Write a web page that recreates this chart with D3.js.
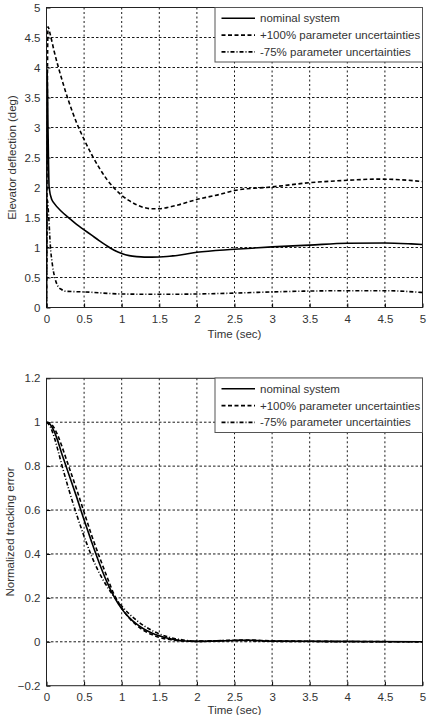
<!DOCTYPE html>
<html>
<head>
<meta charset="utf-8">
<script src="https://cdn.jsdelivr.net/npm/d3@7"></script>
<style>
  body { margin: 0; background: #fff; }
  svg { display: block; font-family: Arial, "Liberation Sans", sans-serif; }
</style>
</head>
<body>
<svg id="chart" width="427" height="715"></svg>
<script>
// series names (legend)
const seriesNames = ["nominal system", "+100% parameter uncertainties", "-75% parameter uncertainties"];

// top plot: elevator deflection (deg)
const defNominalT = [0, 0.01, 0.02, 0.035, 0.07, 0.1, 0.2, 0.3, 0.4, 0.5, 0.6, 0.7, 0.8, 0.9, 1.0, 1.1, 1.2, 1.3, 1.4, 1.6, 1.8, 2.0, 2.5, 3.0, 3.5, 4.0, 4.5, 4.85, 5.0];
const defNominalV = [0, 3.93, 3.0, 2.0, 1.8, 1.74, 1.6, 1.49, 1.385, 1.295, 1.205, 1.115, 1.03, 0.955, 0.9, 0.865, 0.848, 0.84, 0.84, 0.85, 0.88, 0.92, 0.97, 1.01, 1.04, 1.07, 1.075, 1.06, 1.05];

const defPlusT = [0, 0.02, 0.05, 0.1, 0.2, 0.3, 0.4, 0.5, 0.6, 0.7, 0.8, 0.9, 1.0, 1.1, 1.2, 1.3, 1.4, 1.5, 1.6, 1.75, 2.0, 2.32, 2.5, 3.0, 3.5, 4.0, 4.4, 4.7, 5.0];
const defPlusV = [0, 4.68, 4.55, 4.28, 3.82, 3.42, 3.08, 2.8, 2.55, 2.33, 2.14, 1.99, 1.87, 1.78, 1.71, 1.665, 1.645, 1.645, 1.665, 1.71, 1.8, 1.89, 1.95, 2.01, 2.08, 2.12, 2.14, 2.13, 2.1];

const defMinusT = [0, 0.01, 0.03, 0.05, 0.08, 0.11, 0.15, 0.2, 0.26, 0.5, 1.0, 1.5, 2.0, 2.5, 3.0, 4.0, 4.5, 5.0];
const defMinusV = [0, 1.8, 1.5, 1.05, 0.7, 0.5, 0.36, 0.3, 0.27, 0.26, 0.225, 0.22, 0.225, 0.24, 0.26, 0.28, 0.28, 0.25];

// bottom plot: normalized tracking error
const errNominalT = [0, 0.05, 0.1, 0.15, 0.2, 0.25, 0.3, 0.4, 0.5, 0.6, 0.7, 0.8, 0.9, 1.0, 1.1, 1.2, 1.3, 1.4, 1.5, 1.6, 1.7, 1.8, 2.0, 2.5, 2.7, 3.0, 5.0];
const errNominalV = [1, 0.99, 0.96, 0.915, 0.86, 0.81, 0.76, 0.66, 0.555, 0.455, 0.36, 0.275, 0.205, 0.15, 0.11, 0.08, 0.057, 0.04, 0.027, 0.017, 0.01, 0.005, 0.002, 0.006, 0.007, 0.003, 0];

const errPlusT = [0, 0.05, 0.1, 0.15, 0.2, 0.25, 0.3, 0.4, 0.5, 0.6, 0.7, 0.8, 0.9, 1.0, 1.1, 1.2, 1.3, 1.4, 1.5, 1.6, 1.7, 1.8, 2.0, 2.5, 2.7, 3.0, 5.0];
const errPlusV = [1, 0.995, 0.975, 0.94, 0.895, 0.845, 0.795, 0.695, 0.59, 0.485, 0.39, 0.3, 0.215, 0.155, 0.108, 0.075, 0.05, 0.033, 0.02, 0.012, 0.007, 0.004, 0.002, 0.007, 0.008, 0.004, 0];

const errMinusT = [0, 0.05, 0.1, 0.15, 0.2, 0.3, 0.4, 0.5, 0.6, 0.7, 0.8, 0.9, 1.0, 1.1, 1.2, 1.3, 1.4, 1.5, 1.6, 1.7, 1.8, 1.9, 2.0, 2.5, 3.0, 5.0];
const errMinusV = [1, 0.98, 0.935, 0.875, 0.81, 0.69, 0.58, 0.48, 0.39, 0.315, 0.255, 0.205, 0.163, 0.127, 0.097, 0.072, 0.052, 0.036, 0.024, 0.015, 0.009, 0.005, 0.003, 0.006, 0.002, 0];

const xTicks = [0, 0.5, 1, 1.5, 2, 2.5, 3, 3.5, 4, 4.5, 5];
const yTicksTop = [0, 0.5, 1, 1.5, 2, 2.5, 3, 3.5, 4, 4.5, 5];
const yTicksBottom = [-0.2, 0, 0.2, 0.4, 0.6, 0.8, 1, 1.2];

const dashes = [null, "4,2.5", "4,2,1,2"];

const svg = d3.select("#chart");

function zip(t, v) {
  return t.map((d, i) => ({ t: d, v: v[i] }));
}

function drawPanel(opts) {
  const x = d3.scaleLinear().domain([0, 5]).range([46.5, 422.5]);
  const y = d3.scaleLinear().domain(opts.yDomain).range([opts.bottom, opts.top]);
  const g = svg.append("g");

  // grid
  g.selectAll(".vgrid").data(xTicks.slice(1, -1)).enter().append("line")
    .attr("x1", d => x(d)).attr("x2", d => x(d))
    .attr("y1", opts.top).attr("y2", opts.bottom)
    .attr("stroke", "#000").attr("stroke-width", 0.9)
    .attr("stroke-dasharray", "2,2.5");
  g.selectAll(".hgrid").data(opts.yTicks.slice(1, -1)).enter().append("line")
    .attr("x1", x(0)).attr("x2", x(5))
    .attr("y1", d => y(d)).attr("y2", d => y(d))
    .attr("stroke", "#000").attr("stroke-width", 0.9)
    .attr("stroke-dasharray", "2.5,2");

  // axes
  const xAxis = d3.axisBottom(x).tickValues(xTicks).tickSize(-4).tickPadding(7)
    .tickFormat(d3.format("~g"));
  const ya = d3.axisLeft(y).tickValues(opts.yTicks).tickSize(-4).tickPadding(6)
    .tickFormat(d3.format("~g"));
  g.append("g").attr("transform", `translate(0,${opts.bottom})`).call(xAxis)
    .call(s => s.select(".domain").remove());
  g.append("g").attr("transform", `translate(${x(0)},0)`).call(ya)
    .call(s => s.select(".domain").remove());
  g.selectAll(".tick text").attr("font-size", 11.5).attr("fill", "#333")
    .attr("font-family", "Arial, 'Liberation Sans', sans-serif");
  g.selectAll(".tick line").attr("stroke", "#000");

  // box
  g.append("rect").attr("x", x(0)).attr("y", opts.top)
    .attr("width", x(5) - x(0)).attr("height", opts.bottom - opts.top)
    .attr("fill", "none").attr("stroke", "#222").attr("stroke-width", 1);

  // clip
  const clipId = "clip" + opts.id;
  svg.append("clipPath").attr("id", clipId).append("rect")
    .attr("x", x(0)).attr("y", opts.top)
    .attr("width", x(5) - x(0)).attr("height", opts.bottom - opts.top);

  const line = d3.line().x(d => x(d.t)).y(d => y(d.v)).curve(d3.curveMonotoneX);
  const lines = g.append("g").attr("clip-path", `url(#${clipId})`);
  opts.series.forEach((s, i) => {
    lines.append("path").datum(s)
      .attr("d", line)
      .attr("fill", "none").attr("stroke", "#000").attr("stroke-width", 1.6)
      .attr("stroke-dasharray", dashes[i]);
  });

  // legend
  const lg = g.append("g").attr("transform", `translate(215,${opts.legendTop})`);
  lg.append("rect").attr("width", 207.5).attr("height", 54.5)
    .attr("fill", "#fff").attr("stroke", "#555").attr("stroke-width", 1);
  seriesNames.forEach((name, i) => {
    const yy = 10.8 + i * 16.8;
    lg.append("line").attr("x1", 6.5).attr("x2", 40).attr("y1", yy).attr("y2", yy)
      .attr("stroke", "#000").attr("stroke-width", 1.6)
      .attr("stroke-dasharray", dashes[i]);
    lg.append("text").attr("x", 45).attr("y", yy + 4)
      .attr("font-size", 11.5).attr("fill", "#333").text(name);
  });

  // labels
  g.append("text").attr("x", (x(0) + x(5)) / 2).attr("y", opts.bottom + opts.xlabelDy)
    .attr("text-anchor", "middle").attr("font-size", 11.5).attr("fill", "#333")
    .text("Time (sec)");
  g.append("text")
    .attr("transform", `translate(${opts.ylabelX},${(opts.top + opts.bottom) / 2}) rotate(-90)`)
    .attr("text-anchor", "middle").attr("font-size", 11.5).attr("fill", "#333")
    .text(opts.ylabel);
}

drawPanel({
  id: "top", top: 7.5, bottom: 307.5, yDomain: [0, 5], yTicks: yTicksTop,
  legendTop: 7.5, ylabel: "Elevator deflection (deg)", ylabelX: 16, xlabelDy: 30,
  series: [zip(defNominalT, defNominalV), zip(defPlusT, defPlusV), zip(defMinusT, defMinusV)]
});

drawPanel({
  id: "bottom", top: 378.3, bottom: 685.7, yDomain: [-0.2, 1.2], yTicks: yTicksBottom,
  legendTop: 378, ylabel: "Normalized tracking error", ylabelX: 14, xlabelDy: 28,
  series: [zip(errNominalT, errNominalV), zip(errPlusT, errPlusV), zip(errMinusT, errMinusV)]
});
</script>
</body>
</html>
